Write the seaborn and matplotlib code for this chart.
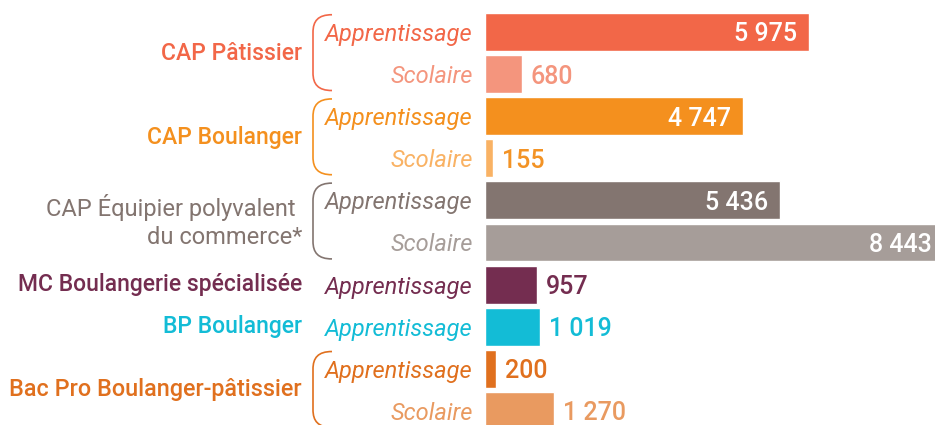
import matplotlib
matplotlib.use("Agg")
import matplotlib.pyplot as plt
import matplotlib.transforms as mtransforms
from matplotlib.path import Path
from matplotlib.patches import PathPatch
import seaborn as sns
import pandas as pd

# --- data -------------------------------------------------------------
diplomes = [
    "CAP Pâtissier", "CAP Pâtissier",
    "CAP Boulanger", "CAP Boulanger",
    "CAP Équipier polyvalent\ndu commerce*", "CAP Équipier polyvalent\ndu commerce*",
    "MC Boulangerie spécialisée",
    "BP Boulanger",
    "Bac Pro Boulanger-pâtissier", "Bac Pro Boulanger-pâtissier",
]
voies = [
    "Apprentissage", "Scolaire",
    "Apprentissage", "Scolaire",
    "Apprentissage", "Scolaire",
    "Apprentissage",
    "Apprentissage",
    "Apprentissage", "Scolaire",
]
effectifs = [5975, 680, 4747, 155, 5436, 8443, 957, 1019, 200, 1270]

bar_colors = [
    "#F26748", "#F4957D",
    "#F4901E", "#F9B264",
    "#837570", "#A69D99",
    "#742D50",
    "#13BCD6",
    "#E0701E", "#E99A60",
]
# colour of value labels (white inside long bars)
value_colors = [
    "#FFFFFF", "#F4957D",
    "#FFFFFF", "#F39325",
    "#FFFFFF", "#FFFFFF",
    "#742D50",
    "#13BCD6",
    "#E0701E", "#E99A60",
]
# one entry per diploma: label, first row, last row, colour, weight, size
groupes = [
    ("CAP Pâtissier", 0, 1, "#F26748", "medium", 16.5),
    ("CAP Boulanger", 2, 3, "#F4901E", "medium", 16.5),
    ("CAP Équipier polyvalent \ndu commerce*", 4, 5, "#837570", "normal", 17),
    ("MC Boulangerie spécialisée", 6, 6, "#742D50", "medium", 16.5),
    ("BP Boulanger", 7, 7, "#13BCD6", "medium", 16.5),
    ("Bac Pro Boulanger-pâtissier", 8, 9, "#E0701E", "medium", 16.8),
]

df = pd.DataFrame({
    "ligne": [f"{d}|{v}" for d, v in zip(diplomes, voies)],
    "effectif": effectifs,
})

# --- figure -----------------------------------------------------------
sns.set_theme(style="white")
plt.rcParams["font.family"] = ["Roboto", "DejaVu Sans"]

W, H = 935, 425
fig = plt.figure(figsize=(W / 100, H / 100), dpi=100)
ax = fig.add_axes([485 / W, 0, 450 / W, 1])

sns.barplot(data=df, x="effectif", y="ligne", hue="ligne", palette=bar_colors,
            width=0.9, saturation=1, legend=False, orient="h", ax=ax)
ax.set_xlim(0, 8287)
ax.set_ylim(9.335, -0.76)
ax.axis("off")

# value labels
for i, v in enumerate(effectifs):
    txt = f"{v:,}".replace(",", " ")
    inside = v >= 3000
    ax.annotate(txt, xy=(v, i), xytext=(-12 if inside else 9, 0),
                textcoords="offset pixels", ha="right" if inside else "left",
                va="center_baseline", fontsize=18, fontweight="medium",
                color=value_colors[i], annotation_clip=False)

# x in figure pixels, y in bar rows
px = mtransforms.Affine2D().scale(1 / W, 1) + fig.transFigure
trans = mtransforms.blended_transform_factory(px, ax.transData)

# apprentissage / scolaire labels
for i, v in enumerate(voies):
    ax.text(473, i, v, transform=trans, ha="right", va="center_baseline",
            fontsize=17, fontstyle="italic", color=bar_colors[i])

# diploma labels and brackets
for label, r0, r1, col, weight, size in groupes:
    ax.text(302, (r0 + r1) / 2, label, transform=trans, ha="right",
            va="center", fontsize=size, fontweight=weight, color=col,
            linespacing=1.3)
    if r1 > r0:
        top, bot = r0 - 0.41, r1 + 0.39
        verts = [(332, top), (318, top), (313, top + 0.15), (313, top + 0.42),
                 (313, bot - 0.42),
                 (313, bot - 0.15), (318, bot), (332, bot)]
        codes = [Path.MOVETO, Path.CURVE4, Path.CURVE4, Path.CURVE4,
                 Path.LINETO,
                 Path.CURVE4, Path.CURVE4, Path.CURVE4]
        patch = PathPatch(Path(verts, codes), transform=trans, fill=False,
                          edgecolor=col, linewidth=1.2, clip_on=False)
        ax.add_artist(patch)

fig.savefig("out.png", dpi=100)
